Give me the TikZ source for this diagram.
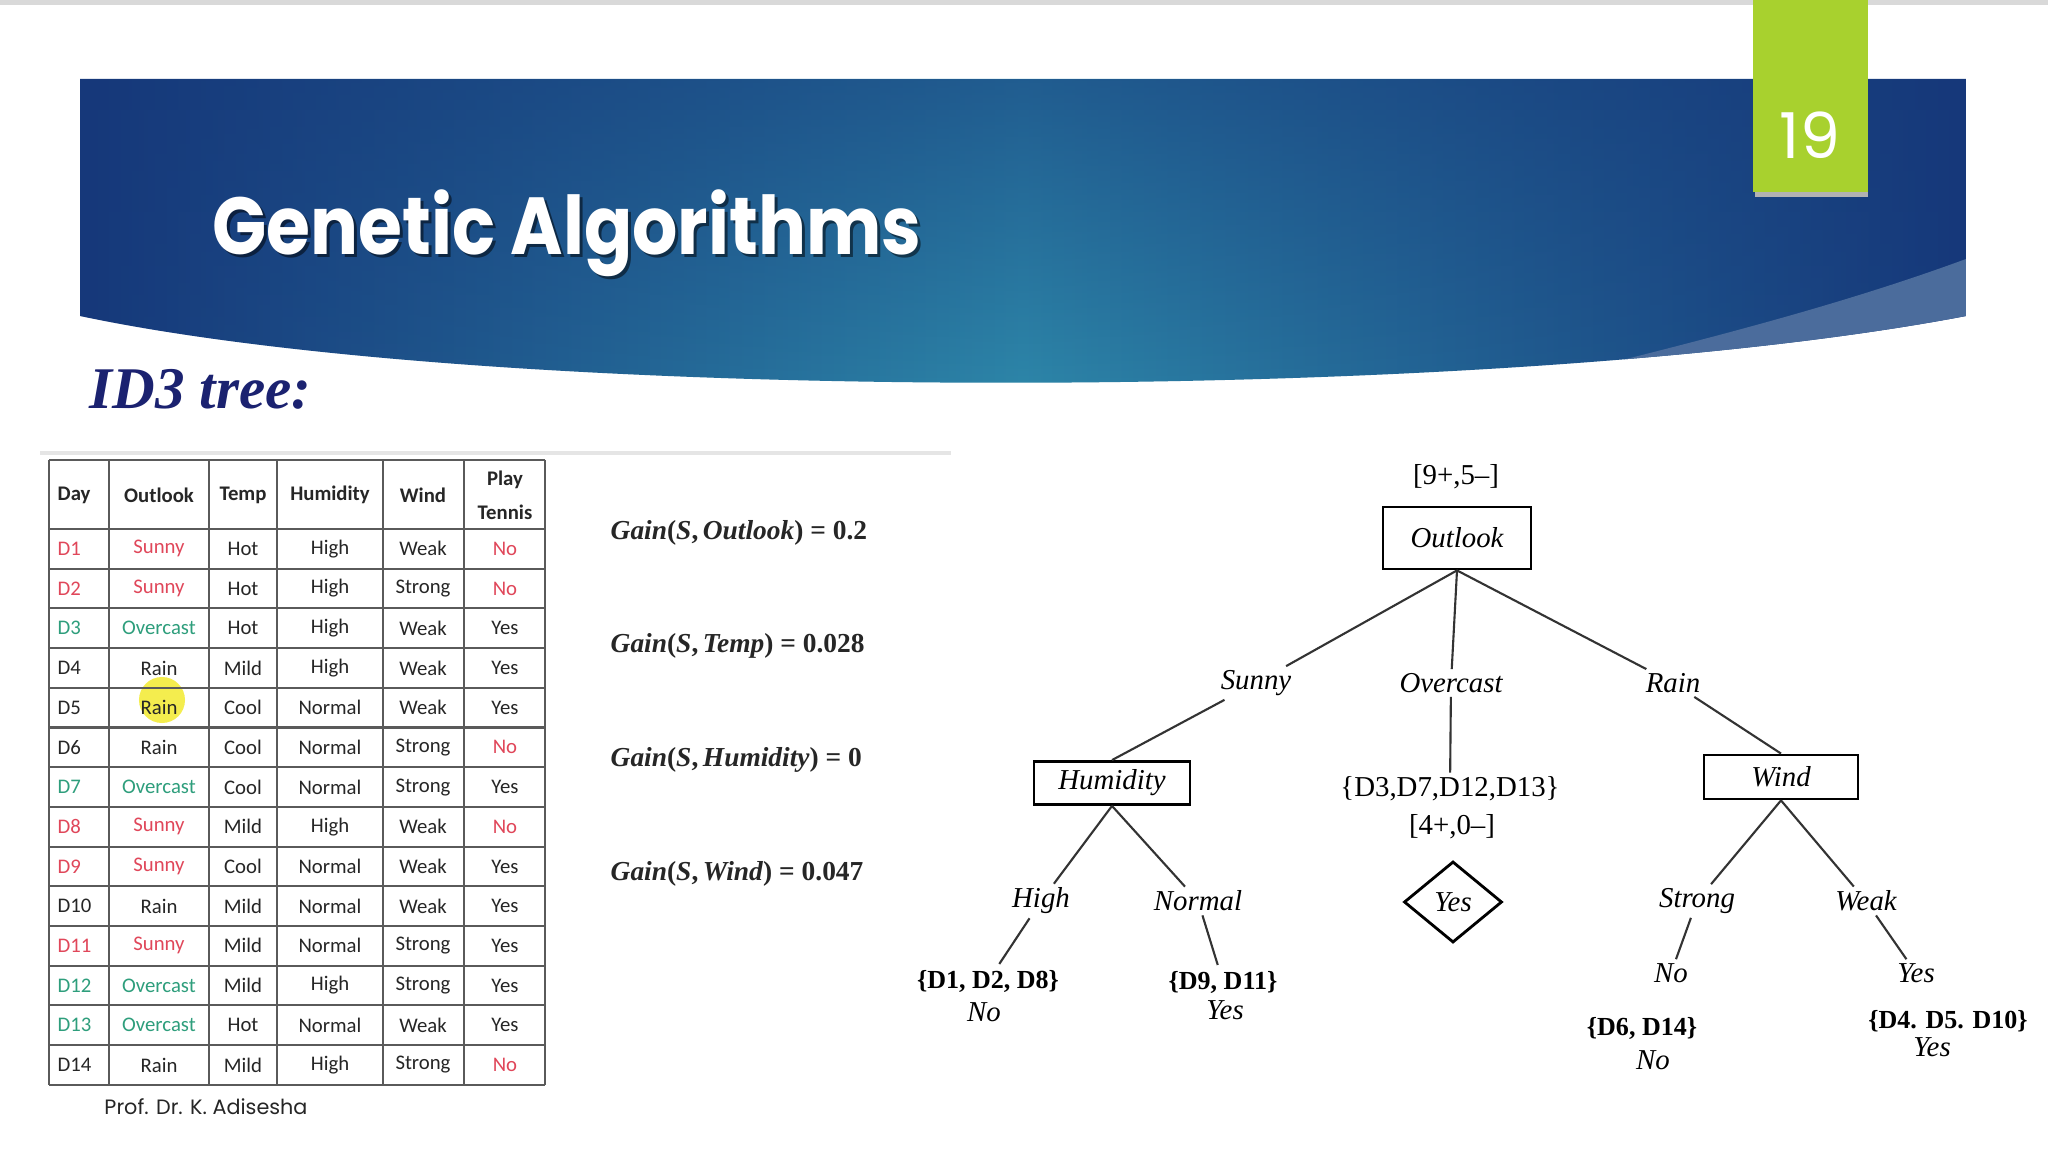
\documentclass[tikz,border=0pt]{standalone}
\usepackage{fontspec}
\setmainfont{Liberation Serif}
\newfontfamily\slidefont{Poppins}
\newfontfamily\cellfont{Carlito}
\usetikzlibrary{positioning,shapes.geometric,fadings}

\definecolor{bandnavy}{HTML}{16387A}
\definecolor{bandteal}{HTML}{2E8AAB}
\definecolor{swooshblue}{HTML}{4B6C9C}
\definecolor{tabgreen}{HTML}{A8D12E}
\definecolor{headnavy}{HTML}{1B2270}
\definecolor{sunred}{HTML}{E0475A}
\definecolor{overteal}{HTML}{2E9E7C}
\definecolor{gridgrey}{HTML}{5A5A5A}
\definecolor{hilite}{HTML}{F3EC3B}
\colorlet{Sunny}{sunred}
\colorlet{Overcast}{overteal}
\colorlet{Rain}{black!85}
\colorlet{No}{sunred}
\colorlet{Yes}{black!85}

\tikzfading[name=topdark, top color=transparent!45, bottom color=transparent!100]

\begin{document}
\begin{tikzpicture}[x=0.01cm, y=-0.01cm,
  titletext/.style={font=\slidefont\bfseries\fontsize{23}{28}\selectfont, inner sep=0pt, anchor=base west},
  tabcell/.style={font=\cellfont\fontsize{5.9}{7}\selectfont, inner sep=0pt, text=black!85},
  headcell/.style={tabcell, font=\cellfont\bfseries\fontsize{5.9}{7}\selectfont},
  grid/.style={gridgrey, line width=0.6pt},
  gain/.style={font=\bfseries\fontsize{7.8}{9}\selectfont, anchor=west, inner sep=0pt, text=black!85},
  attrbox/.style={draw, line width=0.8pt, font=\itshape\fontsize{8.2}{10}\selectfont, inner sep=1pt},
  branch/.style={font=\itshape\fontsize{8.2}{10}\selectfont, inner sep=1pt},
  tally/.style={font=\fontsize{8.2}{10}\selectfont, inner sep=1pt},
  leafset/.style={font=\bfseries\fontsize{7.4}{9}\selectfont, inner sep=1.5pt},
  leafval/.style={font=\itshape\fontsize{8.2}{10}\selectfont, inner sep=1pt},
  branchline/.style={line width=0.6pt, black!80}
]
\fill[white] (0,0) rectangle (2048,1152);
\useasboundingbox (0,0) rectangle (2048,1152);
\draw[black!15, line width=1.5pt] (0,2) -- (2048,2);

% title band
\begin{scope}
  \clip (80,79) -- (1966,79) -- (1966,316) .. controls (1500,405) and (500,405) .. (80,316) -- cycle;
  \shade[left color=bandnavy, right color=bandnavy, middle color=bandteal] (80,79) rectangle (1966,420);
  \fill[bandnavy, path fading=topdark] (80,79) rectangle (1966,420);
  \fill[swooshblue] (1966,259) .. controls (1800,320) and (1620,360) .. (1380,420) -- (1966,420) -- cycle;
\end{scope}
\node[titletext, text=black, opacity=0.5] (titleshadow) at (215,258) {\scalebox{0.88}[1]{Genetic Algorithms}};
\node[titletext, text=white] (title) at (212,255) {\scalebox{0.88}[1]{Genetic Algorithms}};

% slide number tab
\fill[black!30] (1755,192) rectangle (1868,197);
\fill[tabgreen] (1753,0) rectangle (1868,192);
\node[font=\slidefont\fontsize{18}{22}\selectfont, text=white, inner sep=0pt] (slideno) at (1810,135) {19};

\node[font=\bfseries\itshape\fontsize{16.8}{20}\selectfont, text=headnavy, anchor=base west, inner sep=0pt] (id3) at (89,409) {ID3 tree:};

% data table
\draw[black!10, line width=1pt] (40,453) -- (951,453);
\fill[hilite, opacity=0.9] (162,700) circle (0.23cm);
\foreach \gx in {49,109,209,277,383,464,545}
  \draw[grid] (\gx,460) -- (\gx,1085);
\draw[grid] (49,460) -- (545,460);
\foreach \k in {0,...,14}
  \draw[grid] (49,{529+39.7*\k}) -- (545,{529+39.7*\k});

\node[headcell, anchor=west] (hday) at (57,495) {Day};
\node[headcell] (houtlook) at (159,495) {Outlook};
\node[headcell] (htemp) at (243,495) {Temp};
\node[headcell] (hhum) at (330,495) {Humidity};
\node[headcell] (hwind) at (423,495) {Wind};
\node[headcell] (hplay) at (505,480) {Play};
\node[headcell] (htennis) at (505,512) {Tennis};

\foreach \dy/\ou/\tp/\hu/\wi/\pl [count=\i] in {
  D1/Sunny/Hot/High/Weak/No, D2/Sunny/Hot/High/Strong/No,
  D3/Overcast/Hot/High/Weak/Yes, D4/Rain/Mild/High/Weak/Yes,
  D5/Rain/Cool/Normal/Weak/Yes, D6/Rain/Cool/Normal/Strong/No,
  D7/Overcast/Cool/Normal/Strong/Yes, D8/Sunny/Mild/High/Weak/No,
  D9/Sunny/Cool/Normal/Weak/Yes, D10/Rain/Mild/Normal/Weak/Yes,
  D11/Sunny/Mild/Normal/Strong/Yes, D12/Overcast/Mild/High/Strong/Yes,
  D13/Overcast/Hot/Normal/Weak/Yes, D14/Rain/Mild/High/Strong/No} {
  \pgfmathsetmacro\ry{529+39.7*(\i-0.5)}
  \node[tabcell, anchor=west, text=\ou] (day\i) at (57,\ry) {\dy};
  \node[tabcell, text=\ou] (outlook\i) at (159,\ry) {\ou};
  \node[tabcell] (temp\i) at (243,\ry) {\tp};
  \node[tabcell] (hum\i) at (330,\ry) {\hu};
  \node[tabcell] (wind\i) at (423,\ry) {\wi};
  \node[tabcell, text=\pl] (play\i) at (505,\ry) {\pl};
}

\node[font=\slidefont\fontsize{5.9}{7}\selectfont, text=black!85, inner sep=0pt] (prof) at (206,1107) {Prof. Dr. K. Adisesha};

% information gains
\node[gain] (gainoutlook) at (610,533) {\textit{Gain}(\textit{S},\,\textit{Outlook}) = 0.2};
\node[gain] (gaintemp) at (610,646) {\textit{Gain}(\textit{S},\,\textit{Temp}) = 0.028};
\node[gain] (gainhum) at (610,760) {\textit{Gain}(\textit{S},\,\textit{Humidity}) = 0};
\node[gain] (gainwind) at (610,874) {\textit{Gain}(\textit{S},\,\textit{Wind}) = 0.047};

% ID3 tree
\node[tally] (rootcount) at (1456,477) {[9+,5\textendash]};
\node[attrbox, minimum width=1.48cm, minimum height=0.62cm] (outlook) at (1457,538) {Outlook};
\node[branch] (sunny) at (1256,683) {Sunny};
\node[branch] (overcast) at (1451,683) {Overcast};
\node[branch] (rain) at (1673,683) {Rain};
\node[attrbox, minimum width=1.56cm, minimum height=0.43cm] (humidity) at (1112,783) {Humidity};
\node[tally] (overset) at (1450,789) {\{D3,D7,D12,D13\}};
\node[tally] (overcount) at (1452,827) {[4+,0\textendash]};
\node[attrbox, minimum width=1.54cm, minimum height=0.44cm] (wind) at (1781,777) {Wind};
\node[branch] (high) at (1041,901) {High};
\node[branch] (normal) at (1198,901) {Normal};
\node[draw, diamond, line width=0.8pt, minimum width=0.98cm, minimum height=0.81cm, inner sep=0pt,
  font=\itshape\fontsize{8.2}{10}\selectfont] (overyes) at (1453,902) {Yes};
\node[branch] (strong) at (1697,901) {Strong};
\node[branch] (weak) at (1866,901) {Weak};
\node[leafset] (highset) at (988,981) {\{D1, D2, D8\}};
\node[leafval] (highno) at (984,1012) {No};
\node[leafset] (normset) at (1223,982) {\{D9, D11\}};
\node[leafval] (normyes) at (1225,1010) {Yes};
\node[leafval] (strongno) at (1671,973) {No};
\node[leafval] (weakyes) at (1916,973) {Yes};
\node[leafset] (strongset) at (1642,1028) {\{D6, D14\}};
\node[leafval] (strongsetno) at (1653,1060) {No};
\node[leafset] (weakset) at (1948,1021) {\{D4. D5. D10\}};
\node[leafval] (weaksetyes) at (1932,1047) {Yes};

\draw[branchline] (outlook.south) -- (sunny) -- (humidity.north);
\draw[branchline] (outlook.south) -- (overcast) -- (overset);
\draw[branchline] (outlook.south) -- (rain) -- (wind.north);
\draw[branchline] (humidity.south) -- (high) -- (highset);
\draw[branchline] (humidity.south) -- (normal) -- (normset);
\draw[branchline] (wind.south) -- (strong) -- (strongno);
\draw[branchline] (wind.south) -- (weak) -- (weakyes);

\end{tikzpicture}
\end{document}
